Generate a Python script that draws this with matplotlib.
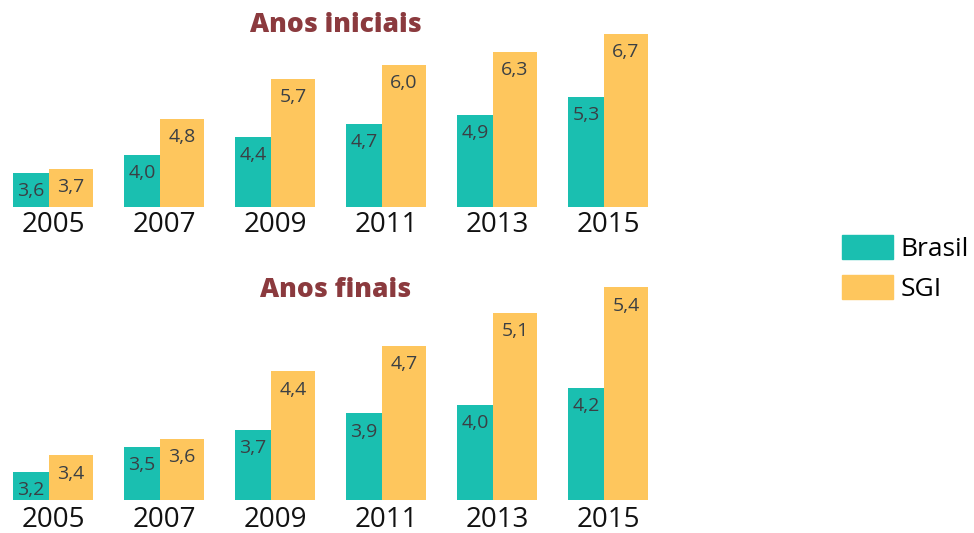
import matplotlib
matplotlib.use("Agg")
import matplotlib.pyplot as plt
from matplotlib.patches import Patch

years = ["2005", "2007", "2009", "2011", "2013", "2015"]
iniciais_brasil = [3.6, 4.0, 4.4, 4.7, 4.9, 5.3]
iniciais_sgi = [3.7, 4.8, 5.7, 6.0, 6.3, 6.7]
finais_brasil = [3.2, 3.5, 3.7, 3.9, 4.0, 4.2]
finais_sgi = [3.4, 3.6, 4.4, 4.7, 5.1, 5.4]

teal = "#1ABFB0"
yellow = "#FEC65D"
title_color = "#8B3A3E"
label_color = "#3A3F44"

plt.rcParams["font.family"] = ["Open Sans", "DejaVu Sans"]

W, H = 974, 533
fig = plt.figure(figsize=(W / 100, H / 100), dpi=100)

px_per_unit = 111.0
w_b = 36 / px_per_unit
w_s = 44 / px_per_unit
left0 = -(w_b + w_s) / 2
xmin = left0 - 13 / px_per_unit
xmax = xmin + W / px_per_unit


def panel(base_px, top_px, base_val, scale, brasil, sgi, title, title_y, pad):
    ax = fig.add_axes([0, (H - base_px) / H, 1, (base_px - top_px) / H])
    xs = range(len(years))
    xb = [i + left0 for i in xs]
    xsg = [i + left0 + w_b for i in xs]
    ax.bar(xb, [v - base_val for v in brasil], width=w_b, bottom=base_val,
           align="edge", color=teal)
    ax.bar(xsg, [v - base_val for v in sgi], width=w_s, bottom=base_val,
           align="edge", color=yellow)
    for x, v in zip(xb, brasil):
        ax.annotate(f"{v:.1f}".replace(".", ","), (x + w_b / 2, v), xytext=(0, -13),
                    textcoords="offset points", ha="center", va="center",
                    fontsize=14, color=label_color)
    for x, v in zip(xsg, sgi):
        ax.annotate(f"{v:.1f}".replace(".", ","), (x + w_s / 2, v), xytext=(0, -13),
                    textcoords="offset points", ha="center", va="center",
                    fontsize=14, color=label_color)
    ax.set_xlim(xmin, xmax)
    ax.set_ylim(base_val, base_val + (base_px - top_px) / scale)
    ax.set_xticks(list(xs))
    ax.set_xticklabels(years, fontsize=20, color="#111111")
    ax.tick_params(axis="x", length=0, pad=pad)
    ax.set_yticks([])
    for s in ax.spines.values():
        s.set_visible(False)
    ax.patch.set_alpha(0)
    fig.text(336 / W, 1 - title_y / H, title, ha="center", va="center",
             fontsize=19, fontweight="heavy", color=title_color)
    return ax


panel(207, 0, 2.85, 45.0, iniciais_brasil, iniciais_sgi, "Anos iniciais", 25, 3)
panel(500, 270, 2.87, 84.0, finais_brasil, finais_sgi, "Anos finais", 290, 4.5)

handles = [Patch(color=teal, label="Brasil"), Patch(color=yellow, label="SGI")]
fig.legend(handles=handles, loc="upper left",
           bbox_to_anchor=(842 / W, 1 - 235 / H), frameon=False,
           handlelength=1.95, handleheight=1.0,
           handletextpad=0.27, labelspacing=0.5, borderpad=0, borderaxespad=0,
           prop={"size": 19})

fig.savefig("out.png", dpi=100)
